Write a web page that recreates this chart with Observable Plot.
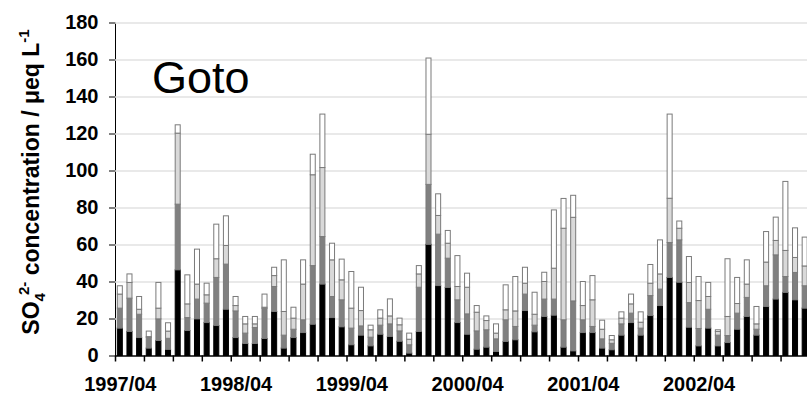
<!DOCTYPE html>
<html>
<head>
<meta charset="utf-8">
<script src="https://cdn.jsdelivr.net/npm/d3@7"></script>
<script src="https://cdn.jsdelivr.net/npm/@observablehq/plot@0.6"></script>
<style>
  body { margin: 0; background: #fff; }
  #chart { width: 807px; height: 395px; overflow: hidden; }
</style>
</head>
<body>
<div id="chart"></div>
<script>
// Monthly samples, April 1997 to March 2003
const months = [
  "1997/04","1997/05","1997/06","1997/07","1997/08","1997/09","1997/10","1997/11","1997/12","1998/01","1998/02","1998/03",
  "1998/04","1998/05","1998/06","1998/07","1998/08","1998/09","1998/10","1998/11","1998/12","1999/01","1999/02","1999/03",
  "1999/04","1999/05","1999/06","1999/07","1999/08","1999/09","1999/10","1999/11","1999/12","2000/01","2000/02","2000/03",
  "2000/04","2000/05","2000/06","2000/07","2000/08","2000/09","2000/10","2000/11","2000/12","2001/01","2001/02","2001/03",
  "2001/04","2001/05","2001/06","2001/07","2001/08","2001/09","2001/10","2001/11","2001/12","2002/01","2002/02","2002/03",
  "2002/04","2002/05","2002/06","2002/07","2002/08","2002/09","2002/10","2002/11","2002/12","2003/01","2003/02","2003/03"
];
const xTickLabels = ["1997/04","1998/04","1999/04","2000/04","2001/04","2002/04"];
const quarterStarts = months.filter((m, i) => i % 3 === 0);
const yTicks = [0, 20, 40, 60, 80, 100, 120, 140, 160, 180];

// SO4 2- concentration (µeq/L) split into four stacked components, bottom to top
const layer1 = [14.8,13,9.7,4,8.1,3.3,46.3,13.5,19.8,17.8,16.2,25,
  9.7,6.5,6.5,9.2,23.8,4,9.7,12.4,16.9,38.6,20.5,15.5,
  5.8,11,5.2,11.5,10.3,7.7,1.3,13,60.1,37.8,36.8,17.8,
  11.5,3.4,4.5,2.2,7.6,8.5,24.3,12.8,21.1,21.8,4.5,2.5,
  12.4,12.4,4,3.1,11,17.8,11,21.6,27,42.2,39.6,15.3,
  5.2,14.8,5.2,7,14.2,21.1,11,26.5,30.5,34.1,30.1,25.6];
const layer2 = [10.8,18,12.6,5.8,11.7,6,35.5,7,10.7,10.5,26,24.4,
  14.4,5.6,8.6,16.3,13.5,7,4.5,6.9,31.7,25.7,11.4,14.6,
  9,5,4.7,4.9,6.8,5.6,4.5,23.9,32.4,27.8,15.8,12.3,
  11,9.9,9.4,6.8,11.7,7.2,8.9,3.6,9.4,8.7,14.8,27,
  6.9,3.3,5,3.5,6.1,5.1,3.8,10.8,8.9,18.9,22.9,13.3,
  9.4,10.2,5.8,3.8,8.7,10.3,3.2,11.2,23.9,8.6,14.8,12.1];
const layer3 = [7.6,8.5,2.7,0.4,5.8,3.9,38.4,7.4,8.1,4.5,10.1,10.1,
  2.9,5,2,0.6,5.9,12.8,6,19.3,49.1,37.3,19.8,10.8,
  10.8,8.3,4,3.8,4.3,3.3,3,7.2,27.1,10.1,8.1,7.2,
  14.4,10.1,5,3.1,5.4,8.4,5.9,5.9,9.5,16.7,49.5,45.2,
  7.7,14.4,5.2,1.9,3.1,5,3.2,6.7,8.2,23.9,6.3,10.9,
  15.1,6.9,2,10.3,5.2,7.2,2.9,12.8,7.8,14.1,8.1,10.7];
const layer4 = [4.5,4.6,6.9,3,13.9,4.5,4.5,15.7,18.9,6.3,18.7,16,
  4.9,4,4,7.1,4.5,27.9,5.9,13.1,11.1,28.9,9,11.2,
  19.8,12.6,2.5,4.5,9.2,3.6,3.3,4.5,41.2,11.7,6.9,16.7,
  7.6,3.6,2.5,5,13.5,18.6,8.6,11.9,5,31.5,16.1,11.9,
  13,13.1,4.9,2.3,3.4,5.3,5.6,10.1,18.4,45.5,3.9,14,
  13,7.6,0.9,31.2,14.1,13.1,9.4,16.5,12.6,37.3,16,15.6];

const layerNames = ["layer1", "layer2", "layer3", "layer4"];
const layerSeries = [layer1, layer2, layer3, layer4];
const layerFill = {layer1: "#000000", layer2: "#808080", layer3: "#d9d9d9", layer4: "#ffffff"};
const layerStroke = {layer1: "#000000", layer2: "#7a7a7a", layer3: "#7a7a7a", layer4: "#7a7a7a"};

const rows = [];
months.forEach((month, i) => {
  layerNames.forEach((layer, k) => rows.push({month, layer, value: layerSeries[k][i]}));
});

const xRange = [115, 809.5];
const step = (xRange[1] - xRange[0]) / months.length;
const font = "'Liberation Sans', Arial, sans-serif";

const plot = Plot.plot({
  width: 807,
  height: 395,
  marginTop: 22.5,
  marginBottom: 39.5,
  marginLeft: 115,
  marginRight: 0,
  style: {fontFamily: font, fontSize: "20px", fontWeight: "bold", color: "#000", background: "#fff"},
  x: {domain: months, range: xRange, paddingInner: 0.48, paddingOuter: 0.24,
      ticks: xTickLabels, tickSize: 0, tickPadding: 21, label: null},
  y: {domain: [0, 180], ticks: yTicks, tickSize: 6, tickPadding: 11, line: true, label: null},
  color: {type: "identity"},
  marks: [
    Plot.ruleY(yTicks.filter(v => v > 0), {stroke: "#e2e2e2", strokeWidth: 1.5}),
    Plot.barY(rows, {
      x: "month", y: "value", z: "layer", order: layerNames,
      fill: d => layerFill[d.layer], stroke: d => layerStroke[d.layer], strokeWidth: 1
    }),
    Plot.ruleY([0], {stroke: "#000", strokeWidth: 1.5}),
    // quarterly tick marks on the category boundaries
    Plot.ruleX(quarterStarts, {x: d => d, y1: 0, y2: 0, dx: -step / 2, insetBottom: -6, stroke: "#000", strokeWidth: 1.5})
  ]
});

const svg = d3.select(plot);

// station name
svg.append("text")
  .attr("x", 152).attr("y", 93)
  .attr("text-anchor", "start")
  .style("font-family", font).style("font-size", "45px").style("font-weight", "normal")
  .attr("fill", "#000")
  .text("Goto");

// y-axis title with sub- and superscripts
const title = svg.append("text")
  .attr("transform", "translate(39,182) rotate(-90)")
  .attr("text-anchor", "middle")
  .style("font-family", font).style("font-size", "23px").style("font-weight", "bold")
  .attr("fill", "#000");
title.append("tspan").text("SO");
title.append("tspan").style("font-size", "15px").attr("dy", 6).text("4");
title.append("tspan").style("font-size", "15px").attr("dx", -2).attr("dy", -16).text("2-");
title.append("tspan").attr("dy", 10).text(" concentration / μeq L");
title.append("tspan").style("font-size", "15px").attr("dy", -10).text("-1");

document.getElementById("chart").appendChild(plot);
</script>
</body>
</html>
